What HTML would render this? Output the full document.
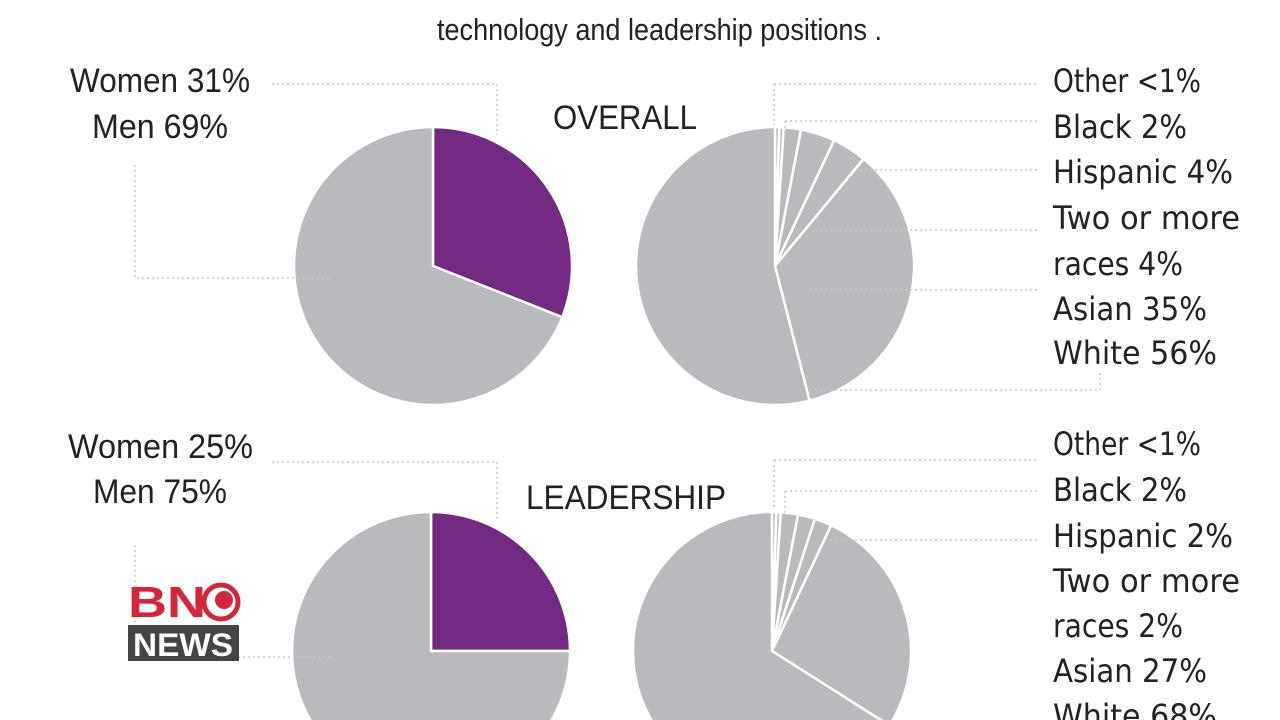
<!DOCTYPE html>
<html><head><meta charset="utf-8"><style>
html,body{margin:0;padding:0;background:#fff;width:1280px;height:720px;overflow:hidden;}
svg{display:block}
.c{font-family:"Liberation Sans Narrow","Liberation Sans",sans-serif;fill:#222;}
.r{font-family:"DejaVu Sans","Liberation Sans",sans-serif;fill:#222;}
.d{stroke:#c8c8c8;stroke-width:1.5;stroke-dasharray:2 3;fill:none}
</style></head><body>
<svg id="s" width="1280" height="720" viewBox="0 0 1280 720" xmlns="http://www.w3.org/2000/svg">
<g id="pies"></g>
<path class="d" d="M272 84H497V135"/>
<path class="d" d="M135 165V278H330"/>
<path class="d" d="M774 84H1038M774 84V125"/>
<path class="d" d="M785 121H1038M785 121V135"/>
<path class="d" d="M860 170H1038"/>
<path class="d" d="M815 230H1038"/>
<path class="d" d="M810 290H1038"/>
<path class="d" d="M815 390H1100V370"/>
<path class="d" d="M272 462H497V520"/>
<path class="d" d="M135 545V657H330"/>
<path class="d" d="M774 460H1038M774 460V510"/>
<path class="d" d="M785 491H1038M785 491V515"/>
<path class="d" d="M830 540H1038"/>
<text class="c" x="437" y="40" font-size="31" textLength="445" lengthAdjust="spacingAndGlyphs">technology and leadership positions .</text>
<text class="c" x="70" y="92" font-size="34" textLength="180" lengthAdjust="spacingAndGlyphs">Women 31%</text>
<text class="c" x="92" y="138" font-size="34" textLength="136" lengthAdjust="spacingAndGlyphs">Men 69%</text>
<text class="c" x="553" y="129" font-size="34" textLength="144" lengthAdjust="spacingAndGlyphs">OVERALL</text>
<text class="c" x="68" y="458" font-size="34" textLength="185" lengthAdjust="spacingAndGlyphs">Women 25%</text>
<text class="c" x="93" y="503" font-size="34" textLength="134" lengthAdjust="spacingAndGlyphs">Men 75%</text>
<text class="c" x="526" y="509" font-size="34" textLength="200" lengthAdjust="spacingAndGlyphs">LEADERSHIP</text>
<g class="r" font-size="32">
<text x="1053" y="92" textLength="148" lengthAdjust="spacingAndGlyphs">Other &lt;1%</text>
<text x="1053" y="138" textLength="134" lengthAdjust="spacingAndGlyphs">Black 2%</text>
<text x="1053" y="183" textLength="180" lengthAdjust="spacingAndGlyphs">Hispanic 4%</text>
<text x="1053" y="229" textLength="187" lengthAdjust="spacingAndGlyphs">Two or more</text>
<text x="1053" y="275" textLength="130" lengthAdjust="spacingAndGlyphs">races 4%</text>
<text x="1053" y="320" textLength="154" lengthAdjust="spacingAndGlyphs">Asian 35%</text>
<text x="1053" y="364" textLength="164" lengthAdjust="spacingAndGlyphs">White 56%</text>
<text x="1053" y="455" textLength="148" lengthAdjust="spacingAndGlyphs">Other &lt;1%</text>
<text x="1053" y="501" textLength="134" lengthAdjust="spacingAndGlyphs">Black 2%</text>
<text x="1053" y="547" textLength="180" lengthAdjust="spacingAndGlyphs">Hispanic 2%</text>
<text x="1053" y="592" textLength="187" lengthAdjust="spacingAndGlyphs">Two or more</text>
<text x="1053" y="637" textLength="130" lengthAdjust="spacingAndGlyphs">races 2%</text>
<text x="1053" y="682" textLength="154" lengthAdjust="spacingAndGlyphs">Asian 27%</text>
<text x="1053" y="727" textLength="164" lengthAdjust="spacingAndGlyphs">White 68%</text>
</g>
<text x="128" y="617" font-family="Liberation Sans,sans-serif" font-weight="bold" font-size="44" fill="#d3263a" textLength="78" lengthAdjust="spacingAndGlyphs">BN</text>
<circle cx="221" cy="602" r="17" fill="none" stroke="#d3263a" stroke-width="5"/>
<circle cx="224" cy="600" r="9" fill="#d3263a"/>
<rect x="128" y="625" width="111" height="36" fill="#444"/>
<text x="133" y="656" font-family="Liberation Sans,sans-serif" font-weight="bold" font-size="32" fill="#fff" textLength="100" lengthAdjust="spacingAndGlyphs">NEWS</text>
</svg>
<script>
var g=document.getElementById('pies');
function pie(cx,cy,r,vals,cols){
  var a=0,h='';
  vals.forEach(function(v,i){
    var a1=a+v*2*Math.PI;
    var x0=cx+r*Math.sin(a),y0=cy-r*Math.cos(a),x1=cx+r*Math.sin(a1),y1=cy-r*Math.cos(a1);
    h+='<path d="M'+cx+' '+cy+'L'+x0+' '+y0+'A'+r+' '+r+' 0 '+(v>0.5?1:0)+' 1 '+x1+' '+y1+'Z" fill="'+cols[i]+'" stroke="#fff" stroke-width="2.5"/>';
    a=a1;
  });
  g.innerHTML+=h;
}
var G='#b9babe',P='#722a82';
pie(433,266,139,[0.31,0.69],[P,G]);
pie(775,266,139,[0.005,0.005,0.02,0.04,0.04,0.35,0.54],[G,G,G,G,G,G,G]);
pie(431,651,139,[0.25,0.75],[P,G]);
pie(772,651,139,[0.005,0.005,0.02,0.02,0.02,0.27,0.66],[G,G,G,G,G,G,G]);
</script>
</body></html>
